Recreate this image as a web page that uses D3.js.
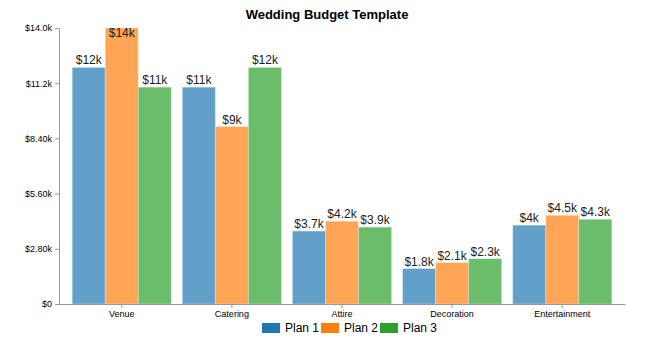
<!DOCTYPE html>
<html><head><meta charset="utf-8">
<script src="https://cdn.jsdelivr.net/npm/d3@7"></script>
<style>
body{margin:0;background:#fff;}
svg{font-family:"Liberation Sans",Arial,sans-serif;}
</style></head>
<body><svg id="c" width="650" height="348"></svg>
<script>
const categories = ["Venue","Catering","Attire","Decoration","Entertainment"];
const seriesNames = ["Plan 1","Plan 2","Plan 3"];
const plan1 = [12000, 11000, 3700, 1800, 4000];
const plan2 = [14000, 9000, 4200, 2100, 4500];
const plan3 = [11000, 12000, 3900, 2300, 4300];
const yTickValues = [0, 2800, 5600, 8400, 11200, 14000];
const yTickLabels = ["$0", "$2.80k", "$5.60k", "$8.40k", "$11.2k", "$14.0k"];
const colors = ["#1f77b4", "#ff7f0e", "#2ca02c"];
const title = "Wedding Budget Template";

const series = [plan1, plan2, plan3];
const svg = d3.select("#c");
const m = {top: 28, right: 25, bottom: 44, left: 59};
const W = 650, H = 348;
const x0 = d3.scaleBand().domain(categories).range([m.left, W - m.right]).paddingInner(0.1).paddingOuter(0.12);
const x1 = d3.scaleBand().domain(seriesNames).range([0, x0.bandwidth()]);
const y = d3.scaleLinear().domain([0, 14000]).range([H - m.bottom, m.top]);
const fmt = d3.format("$.2~s");

svg.append("text").attr("x", 327).attr("y", 19).attr("text-anchor", "middle")
  .attr("font-size", 13).attr("font-weight", "bold").attr("fill", "#000").text(title);

const g = svg.append("g");
categories.forEach((c, i) => {
  seriesNames.forEach((s, j) => {
    const v = series[j][i];
    g.append("rect")
      .attr("x", x0(c) + x1(s)).attr("y", y(v))
      .attr("width", x1.bandwidth()).attr("height", y(0) - y(v))
      .attr("fill", colors[j]).attr("fill-opacity", 0.7)
      .attr("stroke", "#fff").attr("stroke-opacity", 0.3).attr("stroke-width", 1);
    g.append("text")
      .attr("x", x0(c) + x1(s) + x1.bandwidth() / 2)
      .attr("y", Math.max(y(v) - 3, m.top + 9))
      .attr("text-anchor", "middle").attr("font-size", 12).attr("fill", "#222")
      .text(fmt(v));
  });
});

const yAxis = svg.append("g").attr("transform", `translate(${m.left},0)`)
  .call(d3.axisLeft(y).tickValues(yTickValues).tickFormat((d, i) => yTickLabels[i]).tickSize(4).tickSizeOuter(0));
yAxis.selectAll("text").attr("font-size", 9).attr("fill", "#000").attr("font-family", "Liberation Sans, Arial, sans-serif");
yAxis.selectAll("line,path").attr("stroke", "#999");

const xAxis = svg.append("g").attr("transform", `translate(0,${H - m.bottom})`)
  .call(d3.axisBottom(x0).tickSize(4).tickSizeOuter(0));
xAxis.selectAll("text").attr("font-size", 9).attr("fill", "#000").attr("font-family", "Liberation Sans, Arial, sans-serif");
xAxis.selectAll("line,path").attr("stroke", "#999");

const leg = svg.append("g");
const legX = [262, 321, 380];
seriesNames.forEach((s, j) => {
  leg.append("rect").attr("x", legX[j]).attr("y", 323).attr("width", 18).attr("height", 10).attr("fill", colors[j]);
  leg.append("text").attr("x", legX[j] + 23).attr("y", 332).attr("font-size", 12).attr("fill", "#000").text(s);
});
</script></body></html>
